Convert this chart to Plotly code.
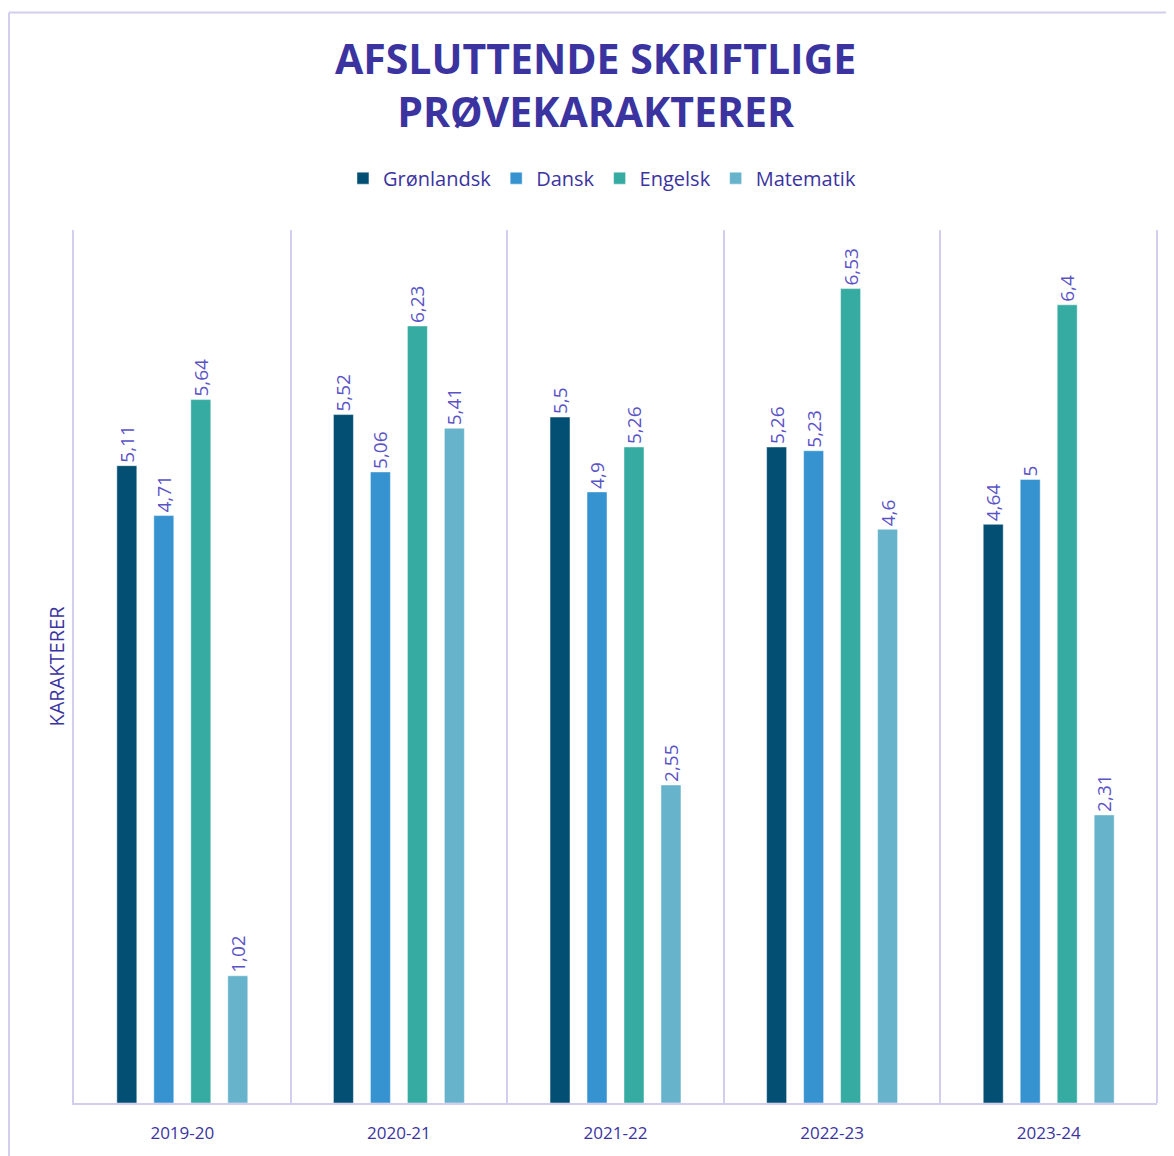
import plotly.graph_objects as go

# skoleår og fag
aar = ["2019-20", "2020-21", "2021-22", "2022-23", "2023-24"]
fag = ["Grønlandsk", "Dansk", "Engelsk", "Matematik"]

groenlandsk = [5.11, 5.52, 5.5, 5.26, 4.64]
dansk = [4.71, 5.06, 4.9, 5.23, 5.0]
engelsk = [5.64, 6.23, 5.26, 6.53, 6.4]
matematik = [1.02, 5.41, 2.55, 4.6, 2.31]

farver = ["#034f73", "#3793d0", "#35aba1", "#67b3cb"]
indigo = "#3b34a0"
label_farve = "#5a53c6"
linje = "#d2cef0"

fig = go.Figure()
for navn, vals, col in zip(fag, [groenlandsk, dansk, engelsk, matematik], farver):
    fig.add_trace(go.Bar(
        x=aar, y=vals, name=navn,
        marker=dict(color=col, line=dict(width=1, color="rgba(255,255,255,0.45)")),
        text=[f"{v:g}".replace(".", ",") for v in vals],
        textposition="outside", textangle=-90,
        constraintext="none", cliponaxis=False,
        textfont=dict(family="Open Sans", size=19, color=label_farve),
    ))

# siden har 8px margin i browseren, så figuren er lidt mindre
fig.update_layout(
    width=1166, height=1148,
    paper_bgcolor="white", plot_bgcolor="white",
    margin=dict(l=66, r=17, t=222, b=51),
    barmode="group", bargap=0.317, bargroupgap=0.46,
    title=dict(text="AFSLUTTENDE SKRIFTLIGE<br>PRØVEKARAKTERER",
               x=0.504, xanchor="center", y=0.9425, yanchor="middle",
               font=dict(family="Open Sans", size=41, color=indigo, weight="bold")),
    legend=dict(orientation="h", x=0.4875, xanchor="center", y=1.0594, yanchor="middle",
                font=dict(family="Open Sans", size=20, color=indigo),
                itemwidth=30, traceorder="normal"),
    font=dict(family="Open Sans", color=indigo),
)

fig.update_xaxes(
    type="category", tickson="boundaries", showgrid=True, gridcolor=linje, gridwidth=2,
    showline=True, linecolor=linje, linewidth=2, ticks="", ticklabelstandoff=14,
    tickfont=dict(family="Open Sans", size=17, color=indigo),
)
fig.update_yaxes(
    range=[0, 7], showgrid=False, zeroline=False, showticklabels=False,
    showline=True, linecolor=linje, linewidth=2,
    title=dict(text="KARAKTERER", standoff=2,
               font=dict(family="Open Sans", size=20, color=indigo)),
)

# ramme rundt om diagrammet
fig.add_shape(type="line", xref="paper", yref="paper",
              x0=-0.06, x1=-0.06, y0=-0.2, y1=1.249,
              line=dict(color=linje, width=2))
fig.add_shape(type="line", xref="paper", yref="paper",
              x0=-0.06, x1=1.2, y0=1.249, y1=1.249,
              line=dict(color=linje, width=2))
fig.add_shape(type="line", xref="paper", yref="paper",
              x0=1, x1=1, y0=0, y1=1,
              line=dict(color=linje, width=2))

fig.write_html("out.html")
